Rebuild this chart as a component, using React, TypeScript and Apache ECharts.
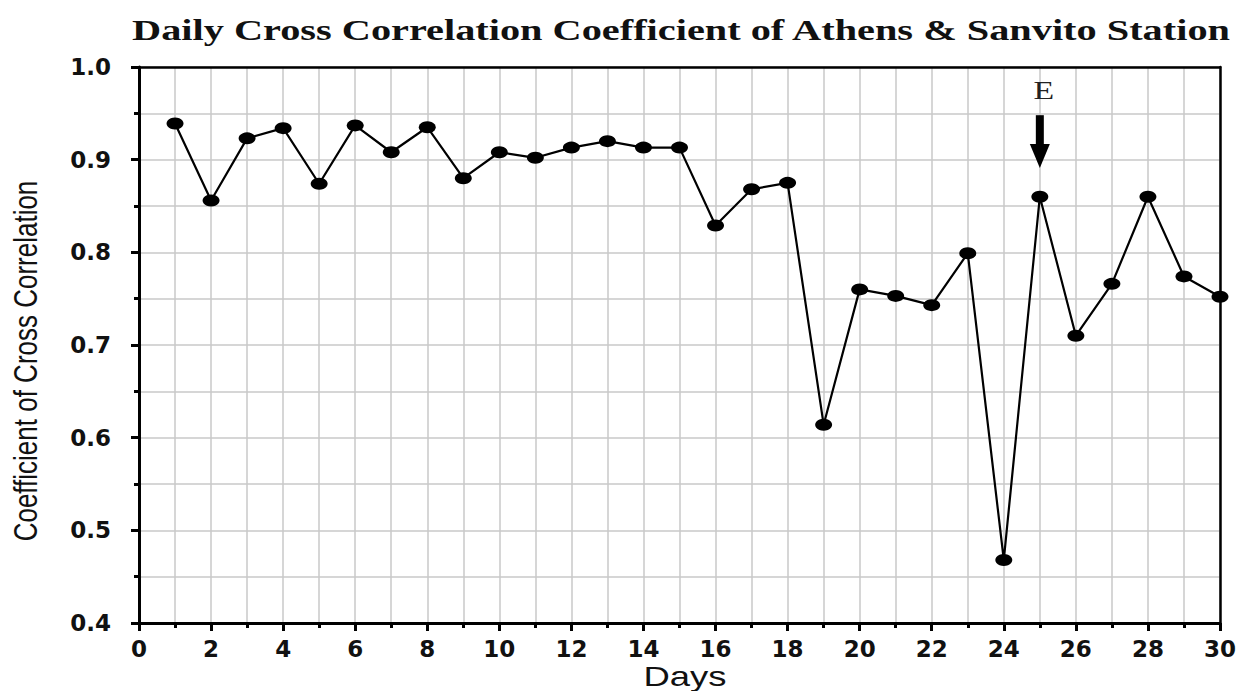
import React, { useEffect, useRef } from "react";
import * as echarts from "echarts";

const titleText = "Daily Cross Correlation Coefficient of Athens & Sanvito Station";
const xName = "Days";
const yName = "Coefficient of Cross Correlation";

const days = [1, 2, 3, 4, 5, 6, 7, 8, 9, 10, 11, 12, 13, 14, 15, 16, 17, 18, 19, 20, 21, 22, 23, 24, 25, 26, 27, 28, 29, 30];
const coefficients = [
  0.939, 0.856, 0.923, 0.934, 0.874, 0.937, 0.908, 0.935, 0.88, 0.908,
  0.902, 0.913, 0.92, 0.913, 0.913, 0.829, 0.868, 0.875, 0.614, 0.76,
  0.753, 0.743, 0.799, 0.468, 0.86, 0.71, 0.766, 0.86, 0.774, 0.752,
];

const xMin = 0;
const xMax = 30;
const xStep = 2;
const yMin = 0.4;
const yMax = 1.0;
const yStep = 0.1;

// annotation: event marker "E" on day 25
const eventDay = 25;
const eventLabel = "E";
const eventLabelY = 0.975;
const eventArrowTail = 0.948;
const eventArrowTip = 0.891;

export default function App() {
  const ref = useRef<HTMLDivElement>(null);

  useEffect(() => {
    if (!ref.current) return;
    const chart = echarts.init(ref.current, undefined, { renderer: "svg" });
    const gridColor = "#c9c9c9";
    const labelFont = { fontFamily: "DejaVu Sans", fontWeight: "bold" as const, fontSize: 23, color: "#111" };

    const option: any = {
      animation: false,
      backgroundColor: "#fff",
      grid: { left: 139, top: 67, width: 1088, height: 556, containLabel: false },
      graphic: [
        {
          type: "text",
          x: 681,
          y: 31,
          scaleX: 1.39,
          style: {
            text: titleText,
            x: 0,
            y: 0,
            align: "center",
            verticalAlign: "middle",
            textAlign: "center",
            textVerticalAlign: "middle",
            fontFamily: "Liberation Serif",
            fontWeight: "bold",
            fontSize: 29,
            fill: "#111",
          },
        },
        {
          type: "text",
          x: 25,
          y: 361,
          rotation: Math.PI / 2,
          scaleY: 1.3,
          style: {
            text: yName,
            x: 0,
            y: 0,
            align: "center",
            verticalAlign: "middle",
            textAlign: "center",
            textVerticalAlign: "middle",
            fontFamily: "Liberation Sans",
            fontSize: 26,
            fill: "#111",
          },
        },
        {
          type: "text",
          x: 685,
          y: 677,
          scaleX: 1.35,
          style: {
            text: xName,
            x: 0,
            y: 0,
            align: "center",
            verticalAlign: "middle",
            textAlign: "center",
            textVerticalAlign: "middle",
            fontFamily: "Liberation Sans",
            fontSize: 27,
            fill: "#111",
          },
        },
      ],
      xAxis: [
        {
          type: "value",
          min: xMin,
          max: xMax,
          interval: xStep,
          axisLine: { show: true, onZero: false, lineStyle: { color: "#000", width: 3 } },
          axisTick: { show: true, inside: false, length: 8, lineStyle: { color: "#000", width: 3 } },
          minorTick: { show: true, splitNumber: 2, length: 5, lineStyle: { color: "#000", width: 3 } },
          axisLabel: { ...labelFont, margin: 14 },
          splitLine: { show: true, lineStyle: { color: gridColor, width: 1.5 } },
          minorSplitLine: { show: true, lineStyle: { color: gridColor, width: 1.5 } },
        },
        {
          type: "value",
          position: "top",
          min: xMin,
          max: xMax,
          interval: xStep,
          axisLine: { show: true, onZero: false, lineStyle: { color: "#000", width: 2.5 } },
          axisTick: { show: false },
          axisLabel: { show: false },
          splitLine: { show: false },
        },
      ],
      yAxis: [
        {
          type: "value",
          min: yMin,
          max: yMax,
          interval: yStep,
          axisLine: { show: true, onZero: false, lineStyle: { color: "#000", width: 3 } },
          axisTick: { show: true, inside: false, length: 8, lineStyle: { color: "#000", width: 3 } },
          minorTick: { show: true, splitNumber: 2, length: 5, lineStyle: { color: "#000", width: 3 } },
          axisLabel: { ...labelFont, margin: 28, formatter: (v: number) => v.toFixed(1) },
          splitLine: { show: true, lineStyle: { color: gridColor, width: 1.5 } },
          minorSplitLine: { show: true, lineStyle: { color: gridColor, width: 1.5 } },
        },
        {
          type: "value",
          position: "right",
          min: yMin,
          max: yMax,
          interval: yStep,
          axisLine: { show: true, onZero: false, lineStyle: { color: "#000", width: 2.5 } },
          axisTick: { show: false },
          axisLabel: { show: false },
          splitLine: { show: false },
        },
      ],
      series: [
        {
          type: "line",
          xAxisIndex: 0,
          yAxisIndex: 0,
          data: days.map((d, i) => [d, coefficients[i]]),
          symbol: "circle",
          symbolSize: [17, 12],
          showAllSymbol: true,
          itemStyle: { color: "#000" },
          lineStyle: { color: "#000", width: 2.2 },
          z: 5,
        },
        {
          type: "custom",
          xAxisIndex: 0,
          yAxisIndex: 0,
          clip: false,
          z: 6,
          data: [[eventDay, eventArrowTail, eventArrowTip, eventLabelY]],
          encode: { x: 0, y: 1 },
          renderItem: (params: any, api: any) => {
            const d = api.value(0);
            const tail = api.coord([d, api.value(1)]);
            const tip = api.coord([d, api.value(2)]);
            const lab = api.coord([d, api.value(3)]);
            const headLen = 24;
            const headHalf = 10;
            const shaftHalf = 4;
            return {
              type: "group",
              children: [
                {
                  type: "rect",
                  shape: { x: tail[0] - shaftHalf, y: tail[1], width: shaftHalf * 2, height: tip[1] - headLen - tail[1] + 1 },
                  style: { fill: "#000" },
                },
                {
                  type: "polygon",
                  shape: {
                    points: [
                      [tip[0] - headHalf, tip[1] - headLen],
                      [tip[0] + headHalf, tip[1] - headLen],
                      [tip[0], tip[1]],
                    ],
                  },
                  style: { fill: "#000" },
                },
                {
                  type: "text",
                  x: lab[0] + 4,
                  y: lab[1],
                  scaleX: 1.3,
                  style: {
                    text: eventLabel,
                    x: 0,
                    y: 0,
                    align: "center",
                    verticalAlign: "middle",
                    textAlign: "center",
                    textVerticalAlign: "middle",
                    fontFamily: "Liberation Serif",
                    fontSize: 26,
                    fill: "#222",
                  },
                },
              ],
            };
          },
        },
      ],
    };

    chart.setOption(option);
    return () => chart.dispose();
  }, []);

  return (
    <div
      ref={ref}
      style={{ position: "fixed", left: 0, top: 0, width: 1239, height: 691, background: "#fff" }}
    />
  );
}
